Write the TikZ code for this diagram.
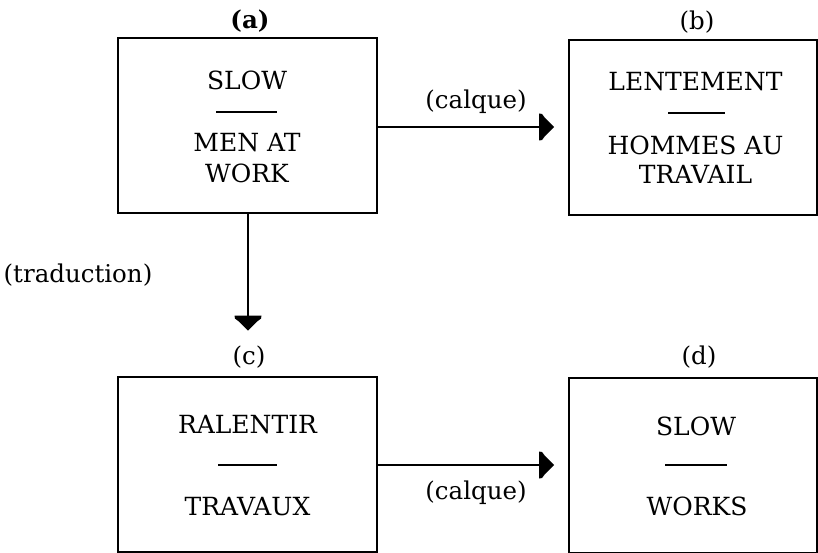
\documentclass[tikz,border=0pt]{standalone}
\usepackage{fontspec}
\setmainfont{DejaVu Serif}
\usetikzlibrary{calc,arrows.meta}
\pgfdeclarearrow{
  name = Pent,
  setup code = {
    \pgfarrowssettipend{0pt}
    \pgfarrowssetbackend{-15pt}
    \pgfarrowssetlineend{-12pt}
  },
  drawing code = {
    \pgfpathmoveto{\pgfqpoint{0pt}{0pt}}
    \pgfpathlineto{\pgfqpoint{-9pt}{9pt}}
    \pgfpathlineto{\pgfqpoint{-12pt}{13pt}}
    \pgfpathlineto{\pgfqpoint{-15pt}{13.5pt}}
    \pgfpathlineto{\pgfqpoint{-15pt}{-13.5pt}}
    \pgfpathlineto{\pgfqpoint{-12pt}{-13pt}}
    \pgfpathlineto{\pgfqpoint{-9pt}{-9pt}}
    \pgfpathclose
    \pgfusepathqfill
  },
}
\tikzset{
  box/.style={draw, line width=2pt, minimum width=259pt, minimum height=175pt, inner sep=0pt},
  txt/.style={font=\fontsize{25}{30}\selectfont, inner sep=0pt, anchor=base},
  lbl/.style={font=\fontsize{24.5}{30}\selectfont, inner sep=0pt},
  conn/.style={line width=1.8pt, -{Pent}},
  seprule/.style={line width=1.2pt},
}
\begin{document}
\begin{tikzpicture}[x=1pt,y=-1pt]
\useasboundingbox[fill=white] (0,0) rectangle (818,553);
% boxes
\node[box] (A) at (247.5,125.5) {};
\node[box, minimum width=248pt] (B) at (693,127.5) {};
\node[box] (C) at (247.5,464) {};
\node[box, minimum width=248pt] (D) at (693,465) {};
% labels
\node[lbl] (la) at (250,21) {\bfseries (a)};
\node[lbl] (lb) at (697,22) {(b)};
\node[lbl] (lc) at (249,357) {(c)};
\node[lbl] (ld) at (699,357) {(d)};
% box a
\node[txt] (a1) at (247,90) {SLOW};
\draw[seprule] (216,112) -- (277,112);
\node[txt] (a2) at (247,152) {MEN AT};
\node[txt] (a3) at (247,183) {WORK};
% box b
\node[txt] (b1) at (695.5,91) {LENTEMENT};
\draw[seprule] (668,113) -- (725,113);
\node[txt] (b2) at (695.5,155) {HOMMES AU};
\node[txt] (b3) at (695.5,184) {TRAVAIL};
% box c
\node[txt] (c1) at (247.5,433) {RALENTIR};
\draw[seprule] (218,465) -- (277,465);
\node[txt] (c2) at (247.5,515) {TRAVAUX};
% box d
\node[txt] (d1) at (696,435) {SLOW};
\draw[seprule] (665,465) -- (727,465);
\node[txt] (d2) at (697,515) {WORKS};
% connectors
\draw[conn, shorten >=14pt] (A.east |- 0,127) -- (B.west |- 0,127);
\draw[conn, shorten >=14pt] (C.east |- 0,465) -- (D.west |- 0,465);
\draw[conn, shorten >=15pt] (A.south -| 248,0) -- (lc.north -| 248,0);
% connector labels
\node[lbl] (t1) at (476,102) {(calque)};
\node[lbl] (t2) at (476,493) {(calque)};
\node[lbl] (t3) at (78,275) {(traduction)};
\end{tikzpicture}
\end{document}
